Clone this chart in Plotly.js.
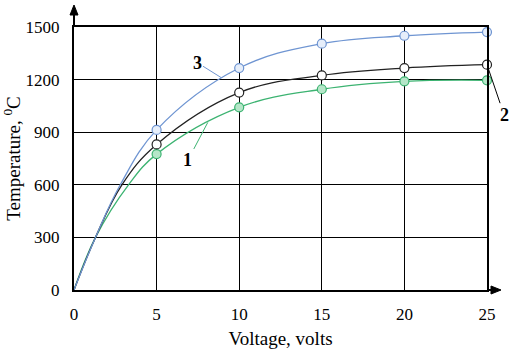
<!DOCTYPE html>
<html><head><meta charset="utf-8">
<script src="https://cdn.plot.ly/plotly-3.0.1.min.js"></script>
<style>html,body{margin:0;padding:0;background:#fff}#c{width:515px;height:356px}</style>
</head><body><div id="c"></div>
<script>
// Measured points (markers)
var voltage = [5, 10, 15, 20, 25];
var temp1 = [775, 1042, 1145, 1190, 1196];
var temp2 = [830, 1126, 1224, 1266, 1285];
var temp3 = [913, 1266, 1405, 1450, 1471];
// Curves (incl. origin and low-voltage part)
var curveX1 = [0, 1.3, 3.3, 5, 10, 15, 20, 25];
var curveY1 = [0, 300, 600, 775, 1042, 1145, 1190, 1196];
var curveX2 = [0, 1.3, 2.9, 5, 10, 15, 20, 25];
var curveY2 = [0, 300, 600, 830, 1126, 1224, 1266, 1285];
var curveX3 = [0, 1.3, 2.8, 5, 10, 15, 20, 25];
var curveY3 = [0, 300, 600, 913, 1266, 1405, 1450, 1471];
var xTicks = [0, 5, 10, 15, 20, 25];
var yTicks = [0, 300, 600, 900, 1200, 1500];

var c1 = '#3cb371', c2 = '#222222', c3 = '#6f95d2';
var f1 = '#b5e6c8', f2 = '#ffffff', f3 = '#e6eefa';

function line(x, y, col) {
  return {x: x, y: y, mode: 'lines', line: {color: col, width: 1.3, shape: 'spline', smoothing: 1.1},
          hoverinfo: 'skip', showlegend: false, cliponaxis: false};
}
function pts(x, y, col, fill) {
  return {x: x, y: y, mode: 'markers', marker: {symbol: 'circle', size: 9, color: fill, line: {color: col, width: 1.2}},
          showlegend: false, cliponaxis: false};
}
var data = [
  line(curveX1, curveY1, c1), line(curveX2, curveY2, c2), line(curveX3, curveY3, c3),
  pts(voltage, temp1, c1, f1), pts(voltage, temp2, c2, f2), pts(voltage, temp3, c3, f3)
];
var font = 'Liberation Serif, Times New Roman, serif';
var W = 413, H = 263; // plot area size in px
var xa = 1 + 14 / W, xb = 1 + 4 / W, ya = 1 + 22 / H, yb = 1 + 12 / H;
var shapes = [
  {type: 'line', xref: 'paper', yref: 'paper', x0: 1, x1: xb, y0: 0, y1: 0, line: {color: '#000', width: 2}},
  {type: 'path', xref: 'paper', yref: 'paper', path: 'M ' + xa + ' 0 L ' + xb + ' ' + (4 / H) + ' L ' + xb + ' ' + (-4 / H) + ' Z',
   fillcolor: '#000', line: {color: '#000', width: 1}},
  {type: 'line', xref: 'paper', yref: 'paper', x0: 0, x1: 0, y0: 1, y1: yb, line: {color: '#000', width: 2}},
  {type: 'path', xref: 'paper', yref: 'paper', path: 'M 0 ' + ya + ' L ' + (4 / W) + ' ' + yb + ' L ' + (-4 / W) + ' ' + yb + ' Z',
   fillcolor: '#000', line: {color: '#000', width: 1}}
];
var layout = {
  width: 515, height: 356,
  margin: {l: 74, r: 28, t: 27, b: 66},
  paper_bgcolor: '#fff', plot_bgcolor: '#fff',
  font: {family: font, color: '#000', size: 17},
  xaxis: {range: [0, 25], tickvals: xTicks, ticktext: xTicks.map(String), showgrid: true, gridcolor: '#000', gridwidth: 1.3,
          zeroline: false, showline: true, linecolor: '#000', linewidth: 2, mirror: true, ticks: '', ticklabelstandoff: 8,
          tickfont: {size: 17, family: font},
          title: {text: 'Voltage, volts', font: {size: 19, family: font}, standoff: 8}},
  yaxis: {range: [0, 1500], tickvals: yTicks, ticktext: yTicks.map(String), showgrid: true, gridcolor: '#000', gridwidth: 1.3,
          zeroline: false, showline: true, linecolor: '#000', linewidth: 2, mirror: true, ticks: '', ticklabelstandoff: 9,
          tickfont: {size: 17, family: font},
          title: {text: 'Temperature, <sup>0</sup>C', font: {size: 19, family: font}, standoff: 12}},
  shapes: shapes,
  annotations: [
    {x: 8.9, y: 1212, text: '<b>3</b>', ax: -24, ay: -15, showarrow: true, arrowhead: 0, arrowwidth: 1, arrowcolor: c3,
     font: {size: 18, family: font}, standoff: 0},
    {x: 8.1, y: 956, text: '<b>1</b>', ax: -20, ay: 38, showarrow: true, arrowhead: 0, arrowwidth: 1, arrowcolor: c1,
     font: {size: 18, family: font}, standoff: 0},
    {x: 25, y: 1285, text: '<b>2</b>', ax: 17, ay: 50, showarrow: true, arrowhead: 0, arrowwidth: 1, arrowcolor: '#000',
     font: {size: 18, family: font}, standoff: 2}
  ]
};
Plotly.newPlot('c', data, layout, {displayModeBar: false, staticPlot: true});
</script></body></html>
